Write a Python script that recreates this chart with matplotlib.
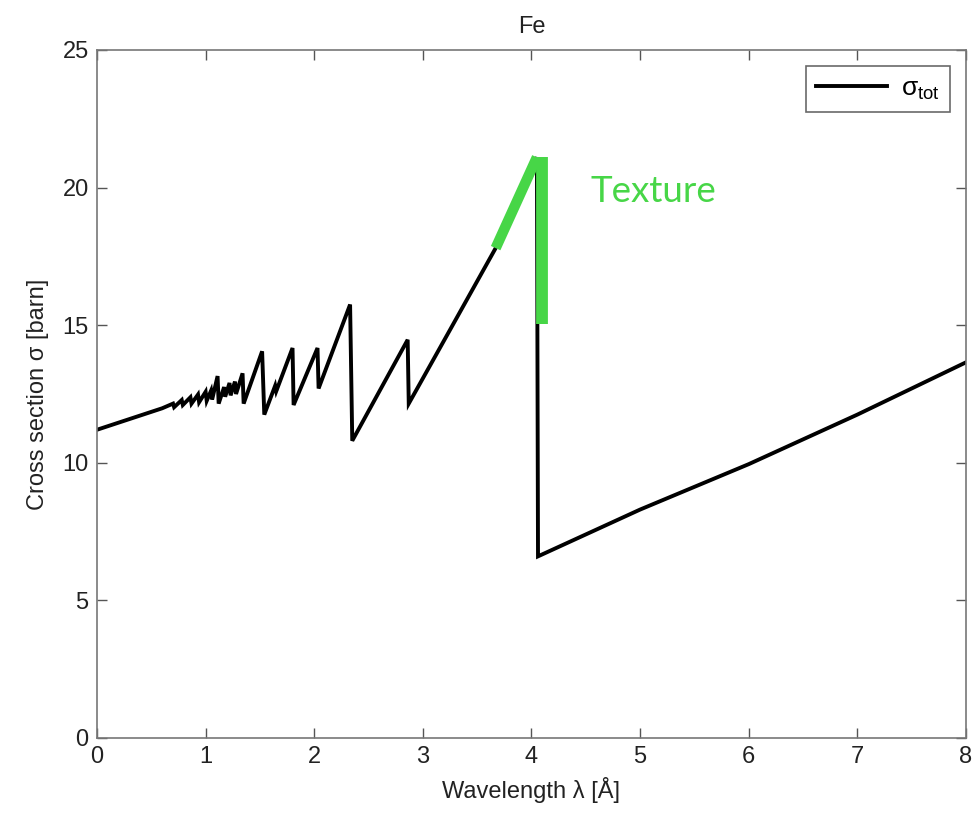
"""
Section efficace totale du fer (Fe) en fonction de la longueur d'onde
avec les bords de Bragg et la zone "Texture" surlignée
"""

import matplotlib
matplotlib.use("Agg")
import matplotlib.pyplot as plt

# ==================== DONNÉES ====================

# longueur d'onde [Å] et section efficace [barn]
wavelength = [0.00, 0.60, 0.70, 0.71, 0.78, 0.79, 0.86, 0.87, 0.93, 0.94,
              1.00, 1.01, 1.05, 1.06, 1.11, 1.12, 1.17, 1.18, 1.22, 1.23,
              1.27, 1.28, 1.34, 1.35, 1.52, 1.54, 1.64, 1.65, 1.80, 1.81,
              2.03, 2.04, 2.33, 2.35, 2.86, 2.87, 3.24, 3.67, 4.05, 4.06,
              5.00, 6.00, 7.00, 8.00]
sigma_tot = [11.20, 11.98, 12.15, 12.02, 12.28, 12.10, 12.38, 12.15, 12.48, 12.20,
             12.58, 12.25, 12.62, 12.30, 13.15, 12.15, 12.75, 12.40, 12.90, 12.45,
             12.95, 12.50, 13.25, 12.15, 14.05, 11.75, 12.80, 12.60, 14.17, 12.10,
             14.17, 12.70, 15.75, 10.80, 14.47, 12.15, 14.76, 17.80, 21.10, 6.60,
             8.30, 9.95, 11.75, 13.65]

# zone texture (surlignage vert)
texture_slope_x = [3.67, 4.05]
texture_slope_y = [17.80, 21.10]
texture_drop_x = [4.10, 4.10]
texture_drop_y = [21.10, 15.05]

green = '#47d647'

# ==================== FIGURE ====================

plt.rcParams['font.family'] = ['Liberation Sans', 'DejaVu Sans']
plt.rcParams['mathtext.default'] = 'regular'

fig = plt.figure(figsize=(9.72, 8.14), dpi=100)
ax = fig.add_axes([0.0998, 0.0934, 0.8940, 0.8452])

ax.plot(wavelength, sigma_tot, color='black', linewidth=2.8,
        solid_joinstyle='miter', label=r'$\sigma_{tot}$')

# surlignage vert
ax.plot(texture_slope_x, texture_slope_y, color=green, linewidth=7.5,
        solid_capstyle='butt')
ax.plot(texture_drop_x, texture_drop_y, color=green, linewidth=8.5,
        solid_capstyle='butt')
ax.text(4.54, 19.85, 'Texture', color=green, fontsize=26.5,
        family=['Lato', 'DejaVu Sans'], va='center', ha='left')

ax.set_xlim(0, 8)
ax.set_ylim(0, 25)
ax.set_xticks(range(0, 9))
ax.set_yticks(range(0, 26, 5))

ax.set_title('Fe', fontsize=17, color='#222222', pad=12)
ax.set_xlabel('Wavelength λ [Å]', fontsize=17, color='#222222', labelpad=6)
ax.set_ylabel('Cross section σ [barn]', fontsize=17, color='#222222', labelpad=10)

ax.tick_params(direction='in', top=True, right=True, length=7, width=1,
               colors='#555555', labelcolor='#222222', labelsize=17, pad=6)
for s in ax.spines.values():
    s.set_color('#777777')
    s.set_linewidth(1.2)

leg = ax.legend(loc='upper right', fontsize=19, frameon=True, fancybox=False,
                handlelength=2.7, handletextpad=0.5, borderaxespad=0.6)
leg.get_frame().set_edgecolor('#444444')
leg.get_frame().set_linewidth(1.2)

plt.savefig('out.png', dpi=100)
